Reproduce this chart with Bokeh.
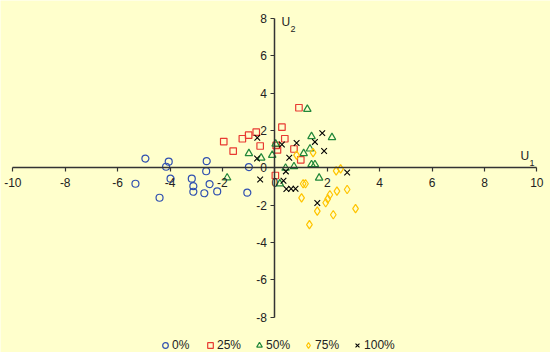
from bokeh.plotting import figure
from bokeh.models import Range1d, FixedTicker, Label, Legend, LegendItem
from bokeh.embed import file_html
from bokeh.resources import INLINE

# ---- data (U1, U2 scores) ----
x0 = [-4.94, -4.05, -4.15, -2.60, -2.62, -3.98, -5.32, -3.17, -3.11, -3.11, -2.69, -2.49, -4.40, -0.99, -2.20, -1.05]
y0 = [0.49, 0.32, 0.05, 0.35, -0.19, -0.59, -0.86, -0.59, -0.99, -1.29, -1.37, -0.88, -1.61, 0.03, -1.27, -1.34]

x25 = [-1.95, -1.59, -1.24, -1.00, -0.71, -0.56, 0.92, 0.27, 0.38, 0.05, 0.10, 0.73, 0.99, 0.02]
y25 = [1.40, 0.89, 1.55, 1.74, 1.90, 1.16, 3.21, 2.17, 1.55, 1.19, 0.95, 1.00, 0.42, -0.42]

x50 = [-1.82, -0.99, -0.52, -0.10, 0.03, 1.24, 1.40, 2.18, 1.10, 1.34, 0.73, 1.40, 1.53, 1.69, 0.19, 0.41]
y50 = [-0.54, 0.76, 0.52, 0.67, 1.27, 3.13, 1.67, 1.62, 0.76, 1.01, 0.06, 0.17, 0.17, -0.55, -0.86, -0.02]

x75 = [0.83, 1.46, 2.34, 2.51, 1.08, 1.17, 1.02, 2.10, 2.02, 1.94, 2.37, 2.76, 1.62, 2.23, 3.08, 1.32]
y75 = [0.67, 0.81, -0.17, -0.06, -0.86, -0.86, -1.62, -1.45, -1.67, -1.88, -1.26, -1.17, -2.33, -2.52, -2.19, -3.05]

x100 = [-0.67, -0.68, -0.56, 0.27, 0.83, 1.53, 1.81, 1.88, 0.55, 0.42, 0.33, 0.44, 0.62, 0.79, 1.62, 2.76]
y100 = [1.60, 0.49, -0.63, 1.24, 1.32, 1.38, 1.85, 0.89, 0.53, -0.20, -0.70, -1.14, -1.13, -1.13, -1.89, -0.26]

series_names = ["0%", "25%", "50%", "75%", "100%"]
x_ticks = [-10, -8, -6, -4, -2, 0, 2, 4, 6, 8, 10]
y_ticks = [-8, -6, -4, -2, 0, 2, 4, 6, 8]

BG = "#FFFFCC"
FONT = "Liberation Sans"
TXT = "#222222"

p = figure(width=550, height=352, output_backend="svg", toolbar_location=None,
           title=None, min_border=0,
           x_range=Range1d(-10.47, 10.52), y_range=Range1d(-9.9, 8.955))
p.background_fill_color = BG
p.border_fill_color = BG
p.outline_line_color = None
p.grid.visible = False

for ax, ticks, bnds in ((p.xaxis[0], x_ticks, (-10, 10)), (p.yaxis[0], y_ticks, (-8, 8))):
    ax.fixed_location = 0
    ax.ticker = FixedTicker(ticks=ticks)
    ax.major_label_overrides = {t: str(t) for t in ticks}
    ax.bounds = bnds
    ax.axis_line_color = "#333333"
    ax.axis_line_width = 1.5
    ax.major_tick_line_color = "#333333"
    ax.major_tick_line_width = 1.2
    ax.major_tick_in = 0
    ax.major_tick_out = 4
    ax.minor_tick_line_color = None
    ax.major_label_text_font = FONT
    ax.major_label_text_font_size = "12px"
    ax.major_label_text_color = TXT
p.xaxis[0].major_label_standoff = 6
p.yaxis[0].major_label_standoff = 4

r0 = p.scatter(x0, y0, marker="circle", line_color="#3050B0", size=7, line_width=1.2, fill_color=None)
r25 = p.scatter(x25, y25, marker="square", line_color="#E83A32", size=6.5, line_width=1.2, fill_color=None)
r50 = p.scatter(x50, y50, marker="triangle", line_color="#22883A", size=7.5, line_width=1.2, fill_color=None)
r75 = p.scatter(x75, y75, marker="diamond", line_color="#FFC400", size=8.5, line_width=1.2, fill_color=None)
r100 = p.scatter(x100, y100, marker="x", line_color="#000000", size=8, line_width=1.1)

legend = Legend(items=[LegendItem(label=n, renderers=[r]) for n, r in
                       zip(series_names, [r0, r25, r50, r75, r100])],
                orientation="horizontal", location=(158, -1),
                background_fill_alpha=0, border_line_color=None,
                padding=0, margin=0, spacing=11, label_standoff=0,
                glyph_width=14, glyph_height=16, label_height=10,
                label_text_font=FONT, label_text_font_size="12px",
                label_text_color=TXT)
p.add_layout(legend, "center")

lab = dict(x_units="screen", y_units="screen", text_font=FONT, text_color=TXT)
p.add_layout(Label(x=520, y=352 - 162, text="U", text_font_size="12px", **lab))
p.add_layout(Label(x=529, y=352 - 165, text="1", text_font_size="9px", **lab))
p.add_layout(Label(x=281, y=352 - 28, text="U", text_font_size="12px", **lab))
p.add_layout(Label(x=290, y=352 - 31, text="2", text_font_size="9px", **lab))

open("out.html", "w").write(file_html(p, INLINE))
